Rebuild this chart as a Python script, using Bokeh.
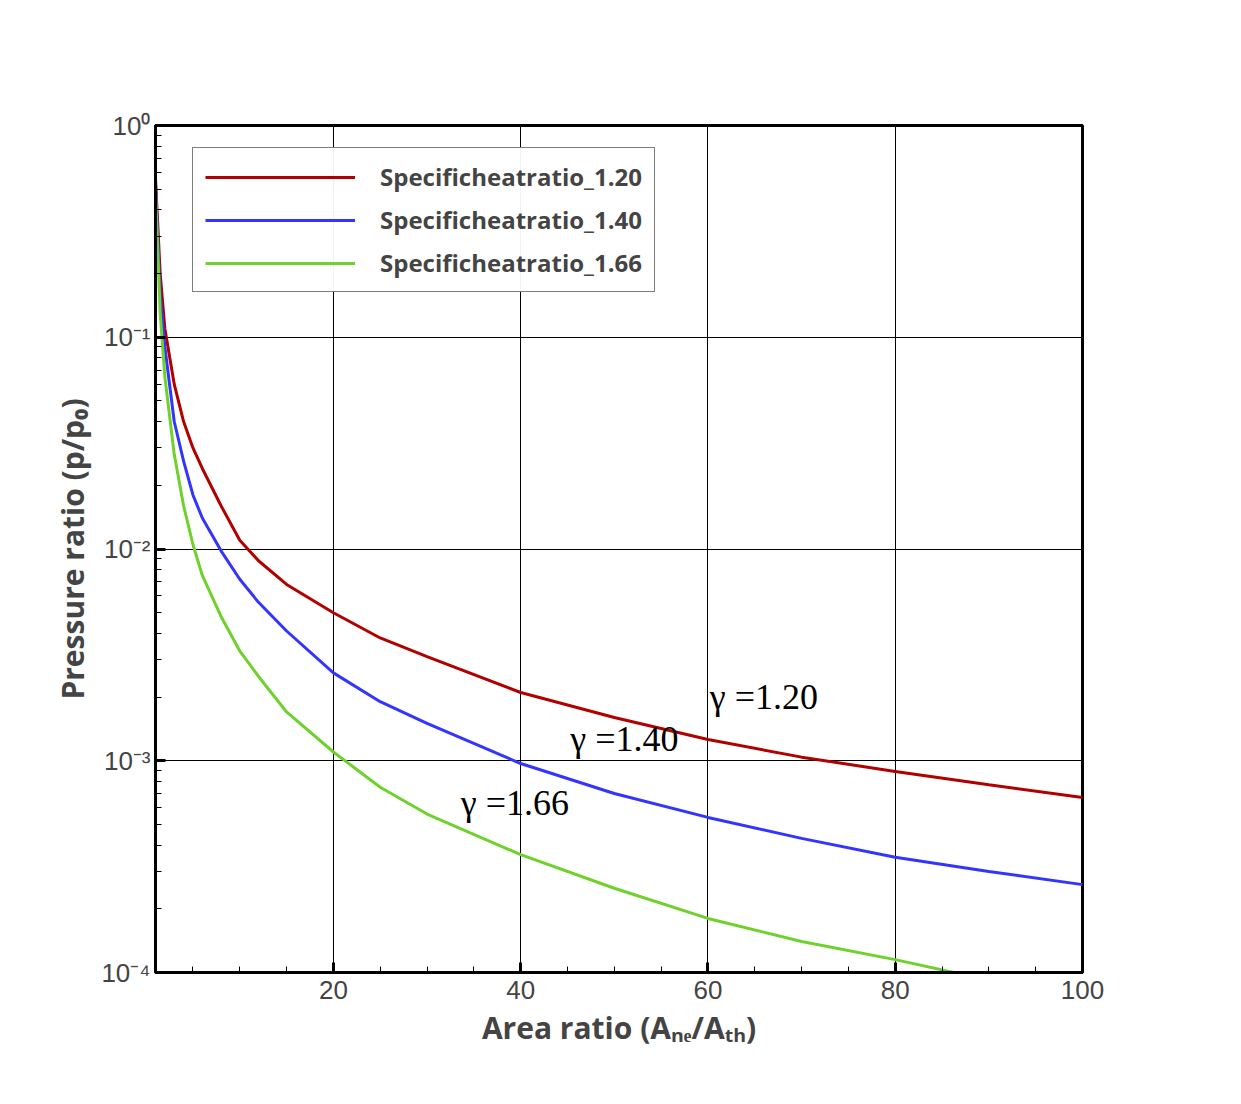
from bokeh.plotting import figure
from bokeh.embed import file_html
from bokeh.resources import INLINE
from bokeh.models import Range1d, FixedTicker, Legend, LegendItem
from bokeh.core.properties import value

# Values
area_ratio = [1, 1.5, 2, 3, 4, 5, 6, 8, 10, 12, 15, 20, 25, 30, 40, 50, 60, 70, 80, 90, 100]
p_gamma_120 = [0.56, 0.2, 0.11, 0.06, 0.04, 0.03, 0.024, 0.016, 0.011, 0.0088, 0.0068, 0.005,
               0.0038, 0.0031, 0.0021, 0.0016, 0.00126, 0.00104, 0.00089, 0.00077, 0.00067]
p_gamma_140 = [0.53, 0.16, 0.09, 0.04, 0.026, 0.018, 0.014, 0.0098, 0.0072, 0.0056, 0.0041, 0.0026,
               0.0019, 0.0015, 0.00097, 0.0007, 0.00054, 0.00043, 0.00035, 0.0003, 0.00026]
p_gamma_166 = [0.49, 0.13, 0.065, 0.028, 0.016, 0.0105, 0.0075, 0.0048, 0.0033, 0.0025, 0.0017, 0.0011,
               0.00075, 0.00056, 0.00036, 0.00025, 0.00018, 0.00014, 0.000115, 0.000092, 0.000077]
series_names = ["Specificheatratio_1.20", "Specificheatratio_1.40", "Specificheatratio_1.66"]
series_colors = ["#b00000", "#3434ff", "#6fd22c"]
gamma_labels = ["γ =1.20", "γ =1.40", "γ =1.66"]
gamma_label_x = [60.2, 45.3, 33.6]
gamma_label_y = [0.002, 0.00126, 0.00063]
y_ticks = [1e-4, 1e-3, 1e-2, 1e-1, 1]
y_tick_labels = ["10⁻⁴", "10⁻³", "10⁻²", "10⁻¹", "10⁰"]
x_ticks = [20, 40, 60, 80, 100]

p = figure(width=1130, height=1082, y_axis_type="log", output_backend="svg", toolbar_location=None,
           x_range=Range1d(1, 100), y_range=Range1d(1e-4, 1),
           min_border_left=155, min_border_right=48, min_border_top=125, min_border_bottom=110)
p.background_fill_color = "white"
p.border_fill_color = "white"
p.outline_line_color = "black"
p.outline_line_width = 3

items = []
for ys, name, col in zip([p_gamma_120, p_gamma_140, p_gamma_166], series_names, series_colors):
    r = p.line(area_ratio, ys, line_color=col, line_width=3)
    items.append(LegendItem(label=name, renderers=[r]))

p.text(gamma_label_x, gamma_label_y, text=gamma_labels, text_font=value("Liberation Serif"),
       text_font_size="36px", text_baseline="middle", text_align="left", text_color="black")

legend = Legend(items=items, location=(37, 680), label_text_font="Open Sans",
                label_text_font_style="bold", label_text_font_size="24px",
                border_line_color="black", border_line_width=1, glyph_width=150,
                label_standoff=25, spacing=10, padding=12, margin=0)
p.add_layout(legend)

for ax in [p.xaxis[0], p.yaxis[0]]:
    ax.axis_line_width = 3
    ax.major_tick_out = 0
    ax.major_tick_in = 10
    ax.major_tick_line_width = 3
    ax.minor_tick_out = 0
    ax.minor_tick_in = 6
    ax.major_label_text_font = "Liberation Sans"
    ax.major_label_text_font_size = "26px"
    ax.axis_label_text_font = "Open Sans"
    ax.axis_label_text_font_style = "bold"
    ax.axis_label_text_font_size = "30px"

p.xaxis.ticker = FixedTicker(ticks=x_ticks, minor_ticks=list(range(5, 100, 5)))
p.yaxis.ticker = FixedTicker(ticks=y_ticks,
                             minor_ticks=[m * 10.0 ** e for e in range(-4, 0) for m in range(2, 10)])
p.yaxis.major_label_overrides = {t: l for t, l in zip(y_ticks, y_tick_labels)}
p.xaxis.axis_label = "Area ratio (Aₙₑ/Aₜₕ)"
p.yaxis.axis_label = "Pressure ratio (p/p₀)"
p.xaxis.major_label_standoff = 8
p.grid.grid_line_color = "black"
p.grid.grid_line_width = 1
p.grid.grid_line_alpha = 1.0

open("out.html", "w").write(file_html(p, INLINE))
